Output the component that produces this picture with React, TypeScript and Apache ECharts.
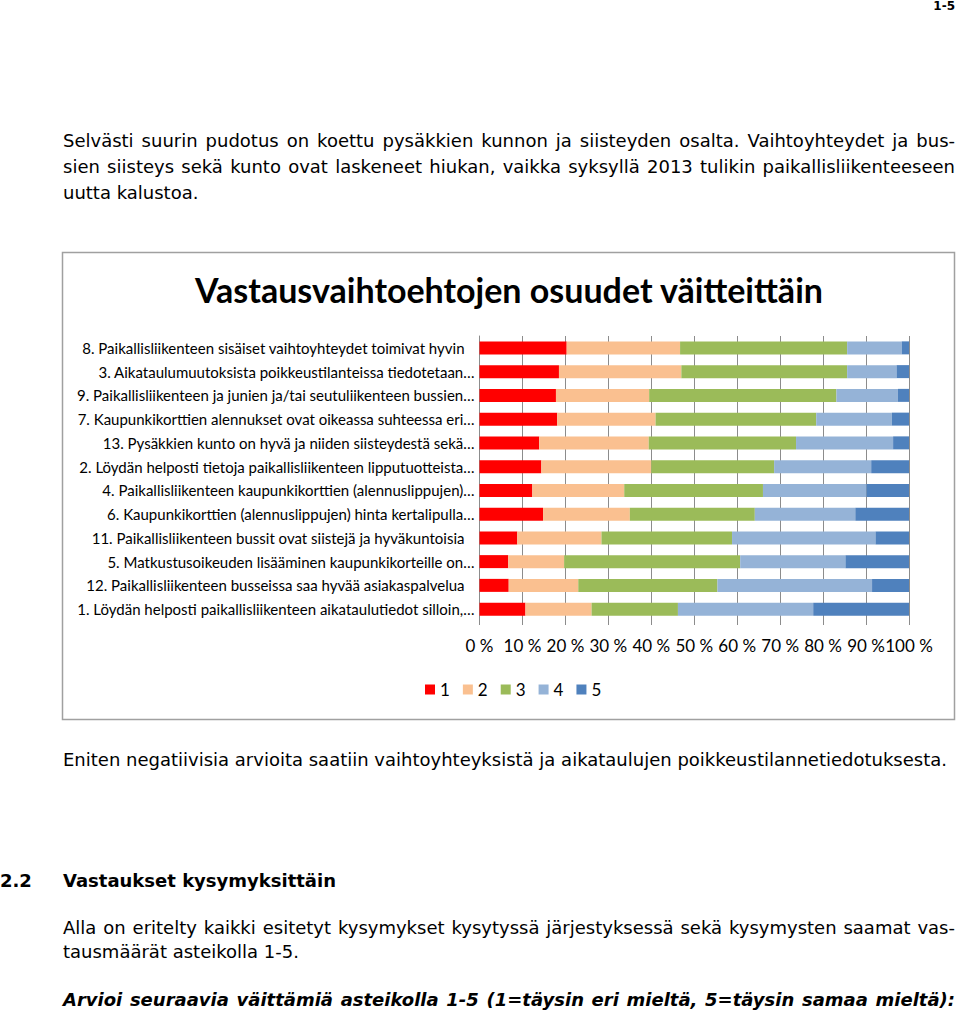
import React, { useEffect, useRef } from "react";
import * as echarts from "echarts";

const categories = [
  "8. Paikallisliikenteen sisäiset vaihtoyhteydet toimivat hyvin",
  "3. Aikataulumuutoksista poikkeustilanteissa tiedotetaan…",
  "9. Paikallisliikenteen ja junien ja/tai seutuliikenteen bussien…",
  "7. Kaupunkikorttien alennukset ovat oikeassa suhteessa eri…",
  "13. Pysäkkien kunto on hyvä ja niiden siisteydestä sekä…",
  "2. Löydän helposti tietoja paikallisliikenteen lipputuotteista…",
  "4. Paikallisliikenteen kaupunkikorttien (alennuslippujen)…",
  "6. Kaupunkikorttien (alennuslippujen) hinta kertalipulla…",
  "11. Paikallisliikenteen bussit ovat siistejä ja hyväkuntoisia",
  "5. Matkustusoikeuden lisääminen kaupunkikorteille on…",
  "12. Paikallisliikenteen busseissa saa hyvää asiakaspalvelua",
  "1. Löydän helposti paikallisliikenteen aikataulutiedot silloin,…",
];

const seriesNames = ["1", "2", "3", "4", "5"];
const s1 = [20.3, 18.5, 17.8, 18.1, 13.9, 14.4, 12.3, 14.8, 8.8, 6.7, 6.8, 10.7];
const s2 = [26.4, 28.5, 21.7, 22.9, 25.5, 25.6, 21.4, 20.2, 19.6, 13.0, 16.2, 15.4];
const s3 = [38.9, 38.6, 43.6, 37.4, 34.3, 28.6, 32.3, 29.1, 30.4, 41.0, 32.4, 20.1];
const s4 = [12.7, 11.5, 14.3, 17.6, 22.6, 22.6, 24.1, 23.4, 33.4, 24.5, 36.0, 31.5];
const s5 = [1.7, 2.9, 2.6, 4.0, 3.7, 8.8, 9.9, 12.5, 7.8, 14.8, 8.6, 22.3];
const seriesValues = [s1, s2, s3, s4, s5];
const colors = ["#FF0000", "#FAC090", "#9BBB59", "#95B3D7", "#4F81BD"];

const chartTitle = "Vastausvaihtoehtojen osuudet väitteittäin";

const chartFont = "Lato, 'Open Sans', sans-serif";
const bodyFont = "'DejaVu Sans', sans-serif";

function Line(props: {
  text: string;
  cy: number;
  left?: number;
  width?: number;
  justify?: boolean;
  size?: number;
  weight?: string;
  italic?: boolean;
}) {
  const h = 30;
  return (
    <div
      style={{
        position: "absolute",
        left: props.left ?? 63,
        width: props.width ?? 892,
        top: props.cy - h / 2,
        height: h,
        lineHeight: h + "px",
        fontSize: props.size ?? 18,
        fontFamily: bodyFont,
        fontWeight: (props.weight ?? "normal") as any,
        fontStyle: props.italic ? "italic" : "normal",
        color: "#000",
        whiteSpace: "nowrap",
        textAlign: (props.justify ? "justify" : "left") as any,
        textAlignLast: (props.justify ? "justify" : "left") as any,
      }}
    >
      {props.text}
    </div>
  );
}

export default function App() {
  const ref = useRef<HTMLDivElement>(null);

  useEffect(() => {
    if (!ref.current) return;
    const chart = echarts.init(ref.current, undefined, { renderer: "svg" });
    chart.setOption({
      animation: false,
      backgroundColor: "transparent",
      graphic: [
        {
          type: "rect",
          shape: { x: 62.5, y: 252.5, width: 892, height: 467 },
          style: { fill: "#fff", stroke: "#A0A0A0", lineWidth: 1.5 },
          z: -10,
        },
        {
          type: "text",
          x: 509,
          y: 289,
          style: {
            text: chartTitle,
            fontFamily: chartFont,
            fontWeight: "bold",
            fontSize: 34,
            fill: "#000",
            align: "center",
            verticalAlign: "middle",
          },
        },
      ],
      legend: {
        data: seriesNames,
        left: 420,
        top: 676,
        itemWidth: 10,
        itemHeight: 10,
        itemGap: 13,
        icon: "rect",
        textStyle: { fontFamily: chartFont, fontSize: 17, color: "#000" },
      },
      grid: { left: 479.5, right: 51, top: 336, bottom: 393, containLabel: false },
      xAxis: {
        type: "value",
        min: 0,
        max: 100,
        interval: 10,
        axisLine: { show: false },
        axisTick: { show: true, length: 4, lineStyle: { color: "#8C8C8C" } },
        splitLine: { show: true, lineStyle: { color: "#8C8C8C", width: 1 } },
        axisLabel: {
          formatter: "{value} %",
          margin: 16,
          fontFamily: chartFont,
          fontSize: 17,
          color: "#000",
          hideOverlap: false,
        },
      },
      yAxis: {
        type: "category",
        data: categories,
        inverse: true,
        axisLine: { show: true, lineStyle: { color: "#8C8C8C", width: 1 } },
        axisTick: { show: false },
        axisLabel: {
          margin: 5,
          fontFamily: chartFont,
          fontSize: 15,
          color: "#000",
          formatter: (v: string) => (v.endsWith("…") ? "{t|" + v + "}" : "{f|" + v + "}"),
          rich: {
            t: { fontFamily: chartFont, fontSize: 15, color: "#000" },
            f: { fontFamily: chartFont, fontSize: 15, color: "#000", padding: [0, 10, 0, 0] },
          },
        },
      },
      series: seriesNames.map((name, i) => ({
        name,
        type: "bar",
        stack: "total",
        data: seriesValues[i],
        barWidth: 13,
        itemStyle: { color: colors[i] },
      })),
    });
    return () => chart.dispose();
  }, []);

  return (
    <div style={{ position: "absolute", left: 0, top: 0, width: 960, height: 1014, background: "#fff" }}>
      <div ref={ref} style={{ position: "absolute", left: 0, top: 0, width: 960, height: 1014 }} />
      <div
        style={{
          position: "absolute",
          right: 5,
          top: 0,
          height: 12,
          lineHeight: "12px",
          fontSize: 12,
          fontWeight: "bold",
          fontFamily: bodyFont,
          color: "#000",
        }}
      >
        1-5
      </div>
      <Line
        text="Selvästi suurin pudotus on koettu pysäkkien kunnon ja siisteyden osalta. Vaihtoyhteydet ja bus-"
        cy={141}
        justify
      />
      <Line
        text="sien siisteys sekä kunto ovat laskeneet hiukan, vaikka syksyllä 2013 tulikin paikallisliikenteeseen"
        cy={167}
        justify
      />
      <Line text="uutta kalustoa." cy={193} />
      <Line
        text="Eniten negatiivisia arvioita saatiin vaihtoyhteyksistä ja aikataulujen poikkeustilannetiedotuksesta."
        cy={760}
      />
      <Line text="2.2" cy={881} left={0} width={60} weight="bold" />
      <Line text="Vastaukset kysymyksittäin" cy={881} weight="bold" />
      <Line
        text="Alla on eritelty kaikki esitetyt kysymykset kysytyssä järjestyksessä sekä kysymysten saamat vas-"
        cy={928}
        justify
      />
      <Line text="tausmäärät asteikolla 1-5." cy={952} />
      <Line
        text="Arvioi seuraavia väittämiä asteikolla 1-5 (1=täysin eri mieltä, 5=täysin samaa mieltä):"
        cy={1000}
        weight="bold"
        italic
        justify
      />
    </div>
  );
}
